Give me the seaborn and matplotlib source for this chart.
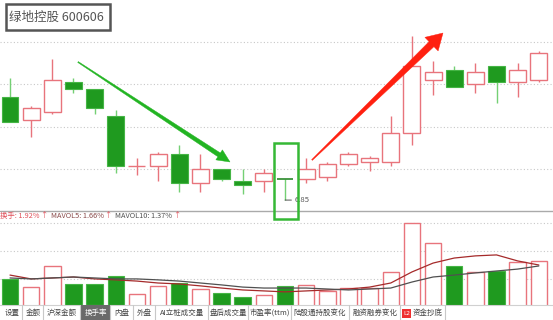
import numpy as np
import pandas as pd
import matplotlib
matplotlib.use("Agg")
import matplotlib.pyplot as plt
import seaborn as sns
from matplotlib.patches import Polygon, Rectangle

# ---------------- data ----------------
opens  = [7.34, 7.23, 7.27, 7.41, 7.38, 7.25, 7.01, 7.01, 7.07, 6.93, 7.00, 6.94, 6.94,
          6.95, 6.95, 6.96, 7.02, 7.03, 7.03, 7.17, 7.42, 7.47, 7.40, 7.49, 7.41, 7.42]
closes = [7.22, 7.29, 7.42, 7.38, 7.29, 7.01, 7.01, 7.07, 6.93, 7.00, 6.95, 6.92, 6.98,
          6.945, 7.00, 7.02, 7.07, 7.05, 7.17, 7.49, 7.46, 7.39, 7.46, 7.41, 7.47, 7.55]
highs  = [7.43, 7.30, 7.52, 7.43, 7.38, 7.28, 7.05, 7.08, 7.11, 7.07, 7.00, 7.00, 7.00,
          6.95, 7.05, 7.03, 7.08, 7.06, 7.25, 7.63, 7.51, 7.49, 7.50, 7.49, 7.50, 7.56]
lows   = [7.22, 7.15, 7.26, 7.36, 7.26, 6.98, 6.97, 6.94, 6.89, 6.89, 6.94, 6.88, 6.89,
          6.85, 6.93, 6.94, 7.01, 6.99, 7.01, 7.11, 7.35, 7.39, 7.36, 7.31, 7.34, 7.41]
turnover = [1.17, 0.83, 1.71, 0.96, 0.96, 1.29, 0.54, 0.88, 1.00, 0.75, 0.58, 0.42, 0.50,
            0.88, 0.92, 0.67, 0.79, 0.79, 1.46, 3.50, 2.67, 1.71, 1.46, 1.50, 1.88, 1.92]
mavol5  = [1.33, 1.17, 1.21, 1.25, 1.17, 1.13, 1.08, 1.00, 0.96, 0.88, 0.79, 0.71, 0.67,
           0.63, 0.67, 0.71, 0.75, 0.83, 1.00, 1.46, 1.83, 2.04, 2.13, 2.17, 1.92, 1.75]
mavol10 = [1.21, 1.17, 1.21, 1.25, 1.21, 1.17, 1.17, 1.13, 1.08, 1.00, 0.92, 0.83, 0.79,
           0.79, 0.79, 0.75, 0.71, 0.75, 0.79, 1.04, 1.25, 1.33, 1.42, 1.50, 1.58, 1.71]
price_grid = [7.0, 7.2, 7.4, 7.6]
vol_grid = [1.167, 2.333, 3.50]
title_text = "绿地控股 600606"
low_label = "6.85"
legend_parts = ["换手: 1.92%", "↑", "MAVOL5: 1.66%", "↑", "MAVOL10: 1.37%", "↑"]
tabs = ["设置", "金额", "沪深金额", "换手率", "内盘", "外盘", "AI立桩成交量", "盘后成交量",
        "市盈率(ttm)", "陆股通持股变化", "融资融券变化", "资金抄底"]

# ---------------- style ----------------
sns.set_theme(style="white")
plt.rcParams['font.family'] = ['Noto Sans CJK SC', 'DejaVu Sans']

RED = "#e8747c"
GREEN = "#1f9a1f"
GREEN_EDGE = "#45b545"
GREEN_WICK = "#74d074"

W, H = 553, 320
fig = plt.figure(figsize=(W / 100, H / 100), dpi=100)
fig.patch.set_facecolor("white")

def fx(px):
    return px / W

def fy(py):
    return 1 - py / H

n = len(opens)
x = np.arange(n)
xlim = (-0.473, 25.67)

# price panel
axp = fig.add_axes([0, fy(211), 1, 211 / H])
axp.set_xlim(*xlim)
axp.set_ylim(6.798, 7.802)
for g in price_grid:
    axp.axhline(g, color="#c8c8c8", lw=0.8, ls=(0, (1, 2)), zorder=0)

for i in range(n):
    o, c, h, l = opens[i], closes[i], highs[i], lows[i]
    up = c >= o
    if up:
        axp.vlines(i, l, h, color=RED, lw=1, zorder=1)
        if abs(c - o) < 0.003:
            axp.hlines(o, i - 0.4, i + 0.4, color=RED, lw=1, zorder=2)
        else:
            axp.bar(i, c - o, bottom=o, width=0.8, facecolor="white", edgecolor=RED,
                    lw=1, zorder=2)
    else:
        axp.vlines(i, l, h, color=GREEN_WICK, lw=1, zorder=1)
        if abs(c - o) < 0.007:
            axp.hlines(o, i - 0.38, i + 0.38, color="#2a8a2a", lw=1.2, zorder=2)
        else:
            axp.bar(i, o - c, bottom=c, width=0.8, facecolor=GREEN, edgecolor=GREEN_EDGE,
                    lw=0.8, zorder=2)

imin = int(np.argmin(lows))
axp.annotate(low_label, xy=(imin, lows[imin]), xytext=(7, 0), textcoords="offset points",
             fontsize=5.5, color="#555555", va="center", ha="left",
             arrowprops=dict(arrowstyle="-", color="#333333", lw=0.6, shrinkA=0, shrinkB=0))
axp.axis("off")

# volume panel
axv = fig.add_axes([0, fy(307), 1, 96 / H])
axv.set_xlim(*xlim)
axv.set_ylim(0, 4.0)
for g in vol_grid:
    axv.axhline(g, color="#c8c8c8", lw=0.8, ls=(0, (1, 2)), zorder=0)
for i in range(n):
    if closes[i] >= opens[i]:
        axv.bar(i, turnover[i], width=0.78, facecolor="white", edgecolor=RED, lw=1, zorder=2)
    else:
        axv.bar(i, turnover[i], width=0.78, facecolor=GREEN, edgecolor=GREEN_EDGE, lw=0.8, zorder=2)
df = pd.DataFrame({"idx": x, "ma5": mavol5, "ma10": mavol10})
sns.lineplot(data=df, x="idx", y="ma5", ax=axv, color="#a52a2a", lw=0.9, zorder=3)
sns.lineplot(data=df, x="idx", y="ma10", ax=axv, color="#505050", lw=0.9, zorder=3)
axv.axis("off")

# separator line
fig.add_artist(plt.Line2D([0, 1], [fy(211), fy(211)], transform=fig.transFigure,
                          color="#aaaaaa", lw=1))

# indicator legend text, laid out sequentially by measured width
renderer = fig.canvas.get_renderer()
part_colors = ["#e0505a", "#e0505a", "#8a4a4a", "#e0505a", "#505050", "#e0505a"]
gaps = [0, 3, 0, 3, 0]
cur = 0.0
for k, (t, col) in enumerate(zip(legend_parts, part_colors)):
    tx = fig.text(fx(cur), fy(215.5), t, fontsize=5.3, color=col, ha="left", va="center")
    bb = tx.get_window_extent(renderer=renderer)
    cur += bb.width + 0.5
    if k < len(gaps):
        cur += gaps[k]

# title box
fig.add_artist(Rectangle((fx(6), fy(30)), fx(104), 26 / H, transform=fig.transFigure,
                         facecolor="white", edgecolor="#555555", lw=1.8, zorder=5))
fig.text(fx(9), fy(17.5), title_text, fontsize=9, color="#555555", ha="left", va="center",
         zorder=6)

# arrows (pixel geometry)
def arrow(x0, y0, x1, y1, w0, w1, hl, hw, color):
    p0 = np.array([x0, y0], float)
    p1 = np.array([x1, y1], float)
    u = (p1 - p0) / np.linalg.norm(p1 - p0)
    nrm = np.array([-u[1], u[0]])
    b = p1 - u * hl
    pts = [p0 + nrm * w0 / 2, b + nrm * w1 / 2, b + nrm * hw / 2, p1,
           b - nrm * hw / 2, b - nrm * w1 / 2, p0 - nrm * w0 / 2]
    pts = [(fx(p[0]), fy(p[1])) for p in pts]
    fig.add_artist(Polygon(pts, closed=True, transform=fig.transFigure, facecolor=color,
                           edgecolor=color, lw=0.3, zorder=6))

arrow(78, 62, 230, 162, 1.0, 4.5, 13, 12, "#22b422")
arrow(312, 160, 443, 33, 1.0, 7.0, 16, 19, "#ff2010")

# highlight box
fig.add_artist(Rectangle((fx(274), fy(219)), fx(24), 76 / H, transform=fig.transFigure,
                         facecolor="none", edgecolor="#35b835", lw=1.8, zorder=6))

# tab bar
fig.add_artist(Rectangle((0, 0), 1, 15 / H, transform=fig.transFigure,
                         facecolor="white", edgecolor="none", zorder=7))
fig.add_artist(plt.Line2D([0, 1], [fy(305), fy(305)], transform=fig.transFigure,
                          color="#d0d0d0", lw=0.8, zorder=8))
centers = [12, 33, 62, 96, 122, 144, 182, 228, 270, 320, 375, 428]
seps = [22, 43, 80, 110, 133, 155, 208, 248, 291, 349, 400, 445]
fig.add_artist(Rectangle((fx(81), 0), fx(29), 15 / H, transform=fig.transFigure,
                         facecolor="#6a6a6a", edgecolor="none", zorder=8))
for s in seps:
    fig.add_artist(plt.Line2D([fx(s), fx(s)], [0, 15 / H], transform=fig.transFigure,
                              color="#c8c8c8", lw=0.8, zorder=8))
for t, c in zip(tabs, centers):
    col = "white" if t == "换手率" else "#444444"
    fig.text(fx(c), fy(313), t, fontsize=5.4, color=col, ha="center", va="center", zorder=9)
# L2 icon
fig.add_artist(Rectangle((fx(402), fy(318)), fx(9), 9 / H, transform=fig.transFigure,
                         facecolor="#ee3030", edgecolor="none", zorder=8))
fig.text(fx(406.5), fy(313.5), "L2", fontsize=4.2, color="white", ha="center", va="center",
         zorder=9, family=['DejaVu Sans'])

fig.savefig("out.png", dpi=100)
